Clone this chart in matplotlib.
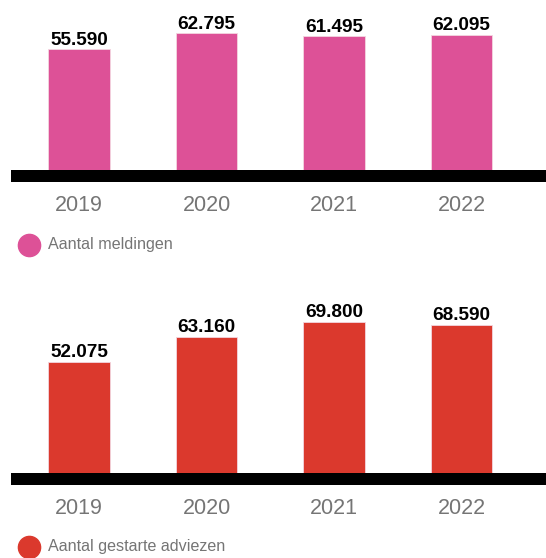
import matplotlib
matplotlib.use("Agg")
import matplotlib.pyplot as plt
from matplotlib.lines import Line2D

years = ["2019", "2020", "2021", "2022"]
meldingen = [55590, 62795, 61495, 62095]
adviezen = [52075, 63160, 69800, 68590]

W, H = 546, 558
plt.rcParams["font.family"] = ["Liberation Sans", "DejaVu Sans"]


def px_box(left, top, right, bottom):
    return [left / W, 1 - bottom / H, (right - left) / W, (bottom - top) / H]


def fmt(v):
    return f"{v:,}".replace(",", ".")


def panel(fig, box, values, color, ymax, legend_label, legend_y):
    ax = fig.add_axes(box)
    x = list(range(len(values)))
    ax.bar(x, values, width=0.486, color=color, edgecolor="#f3d6e0",
           linewidth=0.6, zorder=1)
    ax.set_xlim(-0.5357, 3.6627)
    ax.set_ylim(0, ymax)
    for s in ["top", "left", "right"]:
        ax.spines[s].set_visible(False)
    ax.spines["bottom"].set_linewidth(8.64)
    ax.spines["bottom"].set_color("black")
    ax.spines["bottom"].set_capstyle("butt")
    ax.spines["bottom"].set_zorder(3)
    ax.set_xticks([])
    ax.set_yticks([])
    ax.patch.set_alpha(0)
    for xi, v, yr in zip(x, values, years):
        ax.annotate(fmt(v), (xi, v), xytext=(0, 3.2), textcoords="offset points",
                    ha="center", va="baseline", fontsize=13.7,
                    fontweight="bold", color="black")
        ax.annotate(yr, (xi, 0), xycoords=("data", "axes fraction"),
                    xytext=(0, -25.3), textcoords="offset points",
                    ha="center", va="baseline", fontsize=15.5, color="#757575")
    fig.add_artist(Line2D([29 / W], [1 - legend_y / H], marker="o",
                          markersize=16, color=color, linestyle="none",
                          transform=fig.transFigure))
    fig.text(48 / W, 1 - legend_y / H, legend_label, ha="left", va="center",
             fontsize=11.6, color="#757575")
    return ax


fig = plt.figure(figsize=(W / 100, H / 100), dpi=100)
panel(fig, px_box(10.7, 0, 546, 176), meldingen, "#dd5197", 77330,
      "Aantal meldingen", 245)
panel(fig, px_box(10.7, 280, 546, 478.5), adviezen, "#db392d", 88500,
      "Aantal gestarte adviezen", 547)

fig.savefig("out.png", dpi=100)
